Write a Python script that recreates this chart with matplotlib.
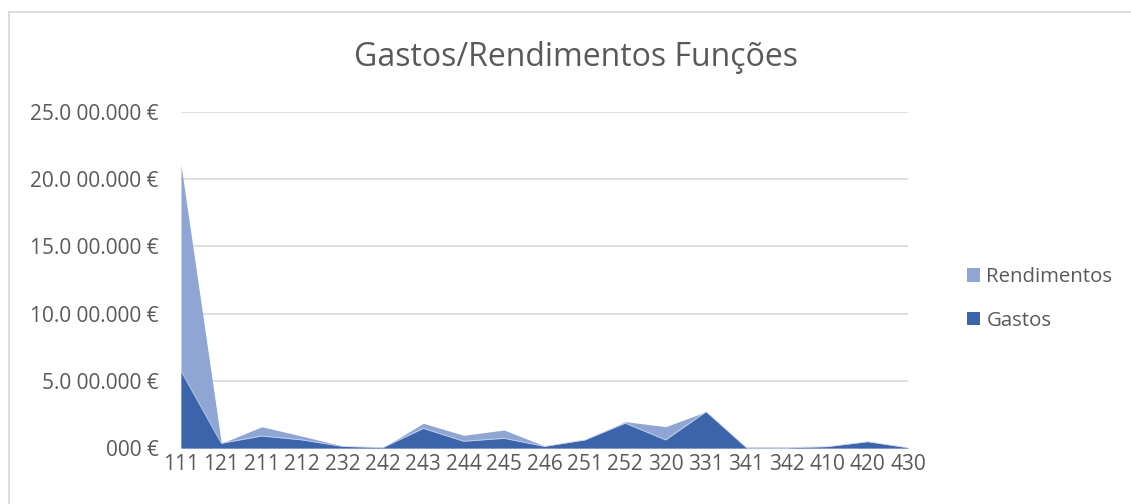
import matplotlib
matplotlib.use("Agg")
import matplotlib.pyplot as plt
from matplotlib.patches import Patch
from matplotlib.lines import Line2D
import numpy as np

categories = ["111", "121", "211", "212", "232", "242", "243", "244", "245", "246",
              "251", "252", "320", "331", "341", "342", "410", "420", "430"]
gastos = [5.73, 0.35, 0.89, 0.60, 0.12, 0.03, 1.46, 0.50, 0.72, 0.12,
          0.60, 1.84, 0.60, 2.70, 0.02, 0.02, 0.10, 0.47, 0.02]
rendimentos = [21.06, 0.35, 1.58, 0.88, 0.15, 0.03, 1.84, 0.94, 1.34, 0.15,
               0.60, 1.96, 1.59, 2.70, 0.02, 0.02, 0.10, 0.47, 0.02]
yticks = [0, 5, 10, 15, 20, 25]
ytick_labels = ["000 €", "5.0 00.000 €", "10.0 00.000 €", "15.0 00.000 €",
                "20.0 00.000 €", "25.0 00.000 €"]

plt.rcParams['font.family'] = ['Open Sans', 'DejaVu Sans']
TXT = "#595959"
GRID = "#D9D9D9"
C_G = "#3B64AA"
C_R = "#8FA5D4"

W, H = 1131, 504
fig = plt.figure(figsize=(W / 100, H / 100), dpi=100)

# chart border (top and left visible)
fig.add_artist(Line2D([9 / W, 1.0], [1 - 12 / H, 1 - 12 / H], transform=fig.transFigure,
                      color=GRID, linewidth=1.3))
fig.add_artist(Line2D([9 / W, 9 / W], [0, 1 - 12 / H], transform=fig.transFigure,
                      color=GRID, linewidth=1.3))

left, right = 181 / W, 908 / W
bottom, top = (H - 448) / H, (H - 112) / H
ax = fig.add_axes([left, bottom, right - left, top - bottom])

x = np.arange(len(categories))
ax.fill_between(x, 0, rendimentos, color=C_R, linewidth=0, label="Rendimentos", zorder=2)
ax.fill_between(x, 0, gastos, color=C_G, linewidth=0, label="Gastos", zorder=3)
ax.plot(x, gastos, color="#C9D3EA", linewidth=0.6, zorder=4)

ax.set_xlim(0, len(categories) - 1)
ax.set_ylim(0, 25)
ax.set_yticks(yticks)
ax.set_yticklabels(ytick_labels)
ax.set_xticks(x)
ax.set_xticklabels(categories)
ax.tick_params(axis="both", length=0, labelsize=15, colors=TXT)
ax.tick_params(axis="y", pad=16)
ax.tick_params(axis="x", pad=4)
for s in ax.spines.values():
    s.set_visible(False)
ax.grid(axis="y", color=GRID, linewidth=1.2, zorder=0)
ax.axhline(0, color=GRID, linewidth=1.2, zorder=1)
ax.set_axisbelow(True)

fig.text(576 / W, 1 - 57 / H, "Gastos/Rendimentos Funções", ha="center", va="center",
         fontsize=23, color=TXT)

handles = [Patch(facecolor=C_R, label="Rendimentos"), Patch(facecolor=C_G, label="Gastos")]
fig.legend(handles=handles, loc="center left", bbox_to_anchor=(967 / W, 1 - 299 / H),
           frameon=False, fontsize=14.7, labelcolor=TXT, handlelength=0.65,
           handleheight=0.65, handletextpad=0.3, labelspacing=1.15, borderaxespad=0,
           borderpad=0)

fig.savefig("out.png", dpi=100)
